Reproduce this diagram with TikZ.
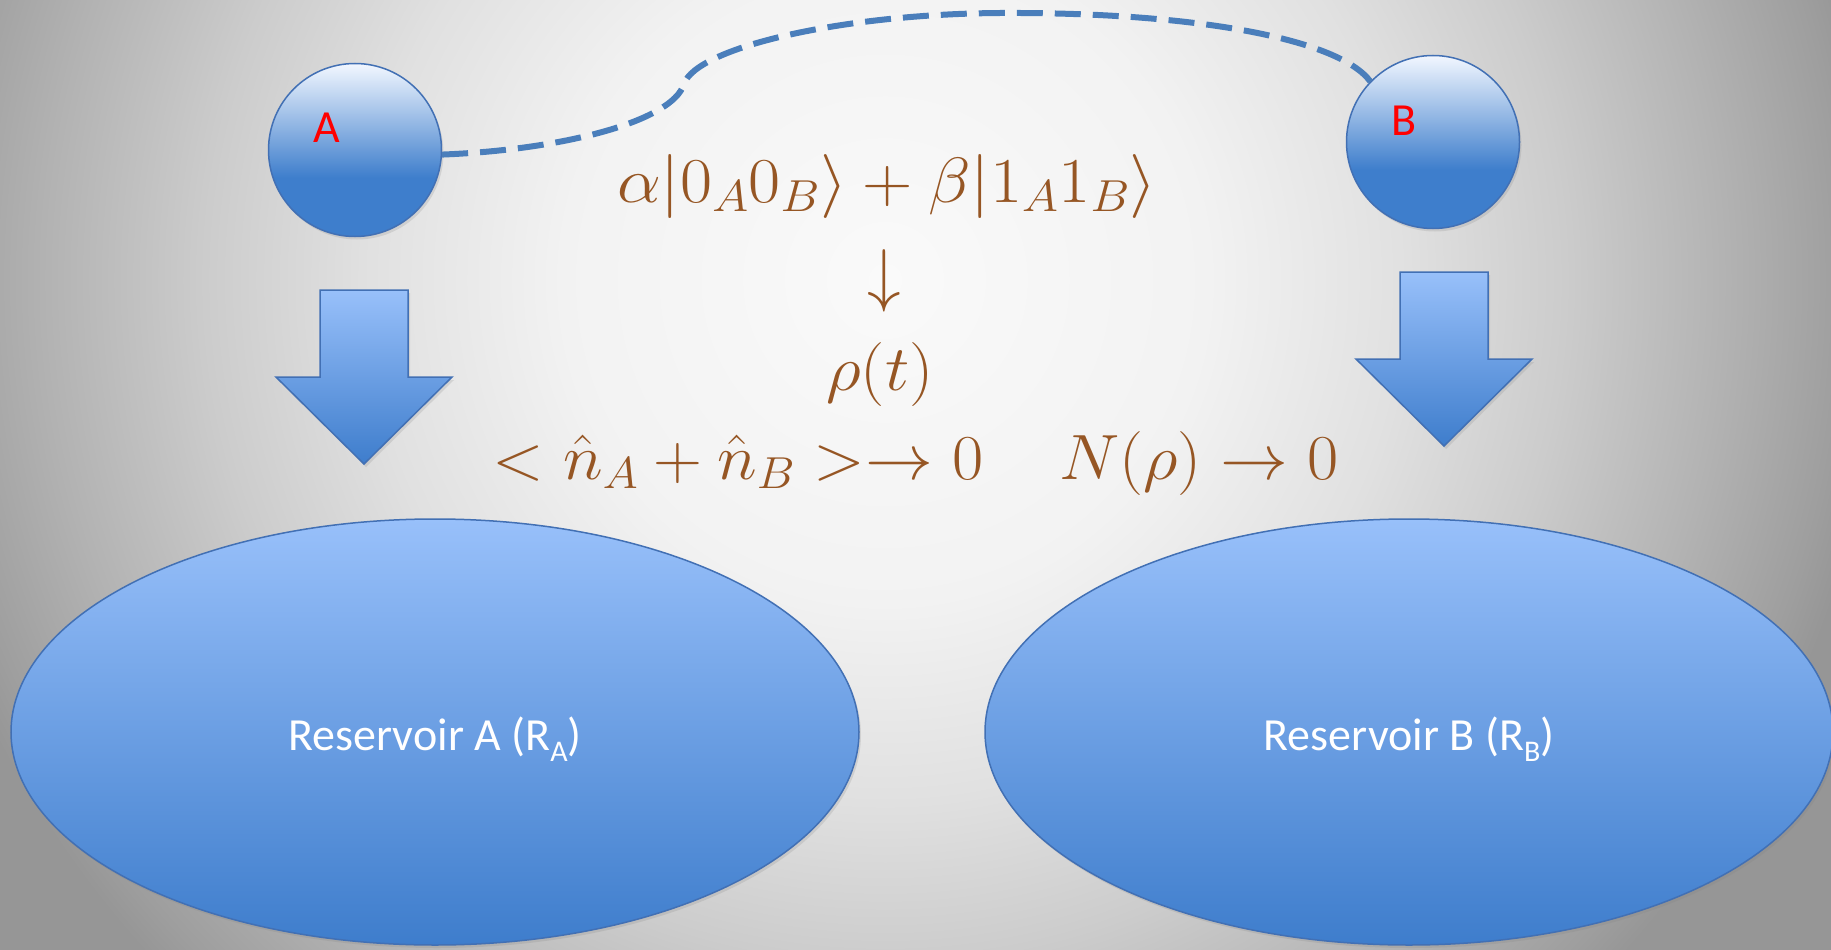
\RequirePackage{fix-cm}
\documentclass[tikz,border=0pt]{standalone}
\usepackage[no-math]{fontspec}
\usepackage{amsmath}
\usepackage{tikz}
\usetikzlibrary{shapes.geometric,calc,shadows}
\newfontfamily\carlito{Carlito}
\definecolor{BallBlue}{RGB}{62,126,204}
\definecolor{BallTop}{RGB}{242,247,255}
\definecolor{ShapeTop}{RGB}{152,192,250}
\definecolor{ShapeBottom}{RGB}{62,125,204}
\definecolor{EdgeBlue}{RGB}{66,112,180}
\definecolor{LinkBlue}{RGB}{74,126,187}
\definecolor{MathBrown}{RGB}{150,86,36}
\definecolor{BgOuter}{RGB}{150,150,150}
\pgfdeclareverticalshading{ballshade}{100bp}{color(0bp)=(BallBlue); color(42bp)=(BallBlue); color(75bp)=(BallTop); color(100bp)=(BallTop)}
\pgfdeclareradialshading{bgshade}{\pgfpoint{0bp}{0bp}}{color(0bp)=(white!98!black); color(8bp)=(white!95!black); color(13bp)=(white!88!black); color(17bp)=(white!80!black); color(21bp)=(white!70!black); color(24bp)=(white!62!black); color(25bp)=(BgOuter); color(50bp)=(BgOuter)}
\newcommand{\ressub}[1]{\raisebox{-0.26em}{\fontsize{30}{32}\selectfont #1}}

\begin{document}
\begin{tikzpicture}[x=1pt, y=-1pt,
 ball/.style={circle, draw=EdgeBlue, line width=1.5pt, shading=ballshade, minimum size=173pt, inner sep=0pt,
   drop shadow={opacity=0.2, shadow xshift=2pt, shadow yshift=-3pt}},
 balllabel/.style={text=red, font=\carlito\fontsize{46}{50}\selectfont, inner sep=0pt},
 reservoir/.style={ellipse, draw=EdgeBlue, line width=1.5pt, top color=ShapeTop, bottom color=ShapeBottom,
   minimum width=848pt, minimum height=426pt, inner sep=0pt, text=white, font=\carlito\fontsize{46}{50}\selectfont,
   text height=36pt, text depth=0pt,
   drop shadow={opacity=0.2, shadow xshift=2pt, shadow yshift=-3pt}},
 blockarr/.style={draw=EdgeBlue, line width=1.5pt, top color=ShapeTop, bottom color=ShapeBottom,
   drop shadow={opacity=0.2, shadow xshift=2pt, shadow yshift=-3pt}},
 mathtxt/.style={text=MathBrown, font=\fontsize{64}{70}\selectfont, inner sep=0pt},
 link/.style={draw=LinkBlue, line width=6pt, dash pattern=on 26pt off 12pt}
]
\useasboundingbox (0,0) rectangle (1831,950);
% background
\begin{scope}
\clip (0,0) rectangle (1831,950);
\fill[BgOuter] (0,0) rectangle (1831,950);
\shade[shading=bgshade] (885,280) circle (1000);
\end{scope}

\node[ball] (A) at (355,150) {};
\node[ball] (B) at (1433,142) {};
\node[balllabel] (labA) at ($(A)+(-28,-22)$) {A};
\node[balllabel] (labB) at ($(B)+(-29,-21)$) {B};

\draw[link] (A.-3) .. controls (560,150) and (672,122) .. (684,84)
  .. controls (696,48) and (840,14) .. (1000,13)
  .. controls (1200,12) and (1340,40) .. (B.136);

\node[mathtxt, anchor=base] (state) at (887,202) {\scalebox{1.09}[1]{$\alpha|0_A0_B\rangle+\beta|1_A1_B\rangle$}};
\node[mathtxt] (evolve) at (884,281) {\scalebox{1.05}[1.1]{$\downarrow$}};
\node[mathtxt, anchor=base] (rho) at (880,390) {\scalebox{1.07}[1]{$\rho(t)$}};
\node[mathtxt, anchor=base] (number) at (738,479) {\scalebox{1.06}[1]{$<\hat{n}_A+\hat{n}_B>\rightarrow 0$}};
\node[mathtxt, anchor=base] (negat) at (1199,479) {\scalebox{1.06}[1]{$N(\rho)\rightarrow 0$}};

% block arrows
\foreach \cx/\ty in {364/290, 1444/272}
  \path[blockarr] (\cx-44,\ty) -- ++(88,0) -- ++(0,87) -- ++(44,0) -- ++(-88,87) -- ++(-88,-87) -- ++(44,0) -- cycle;

\node[reservoir] (resA) at (435,732) {Reservoir A (R\ressub{A})};
\node[reservoir] (resB) at (1409,732) {Reservoir B (R\ressub{B})};
\end{tikzpicture}
\end{document}
